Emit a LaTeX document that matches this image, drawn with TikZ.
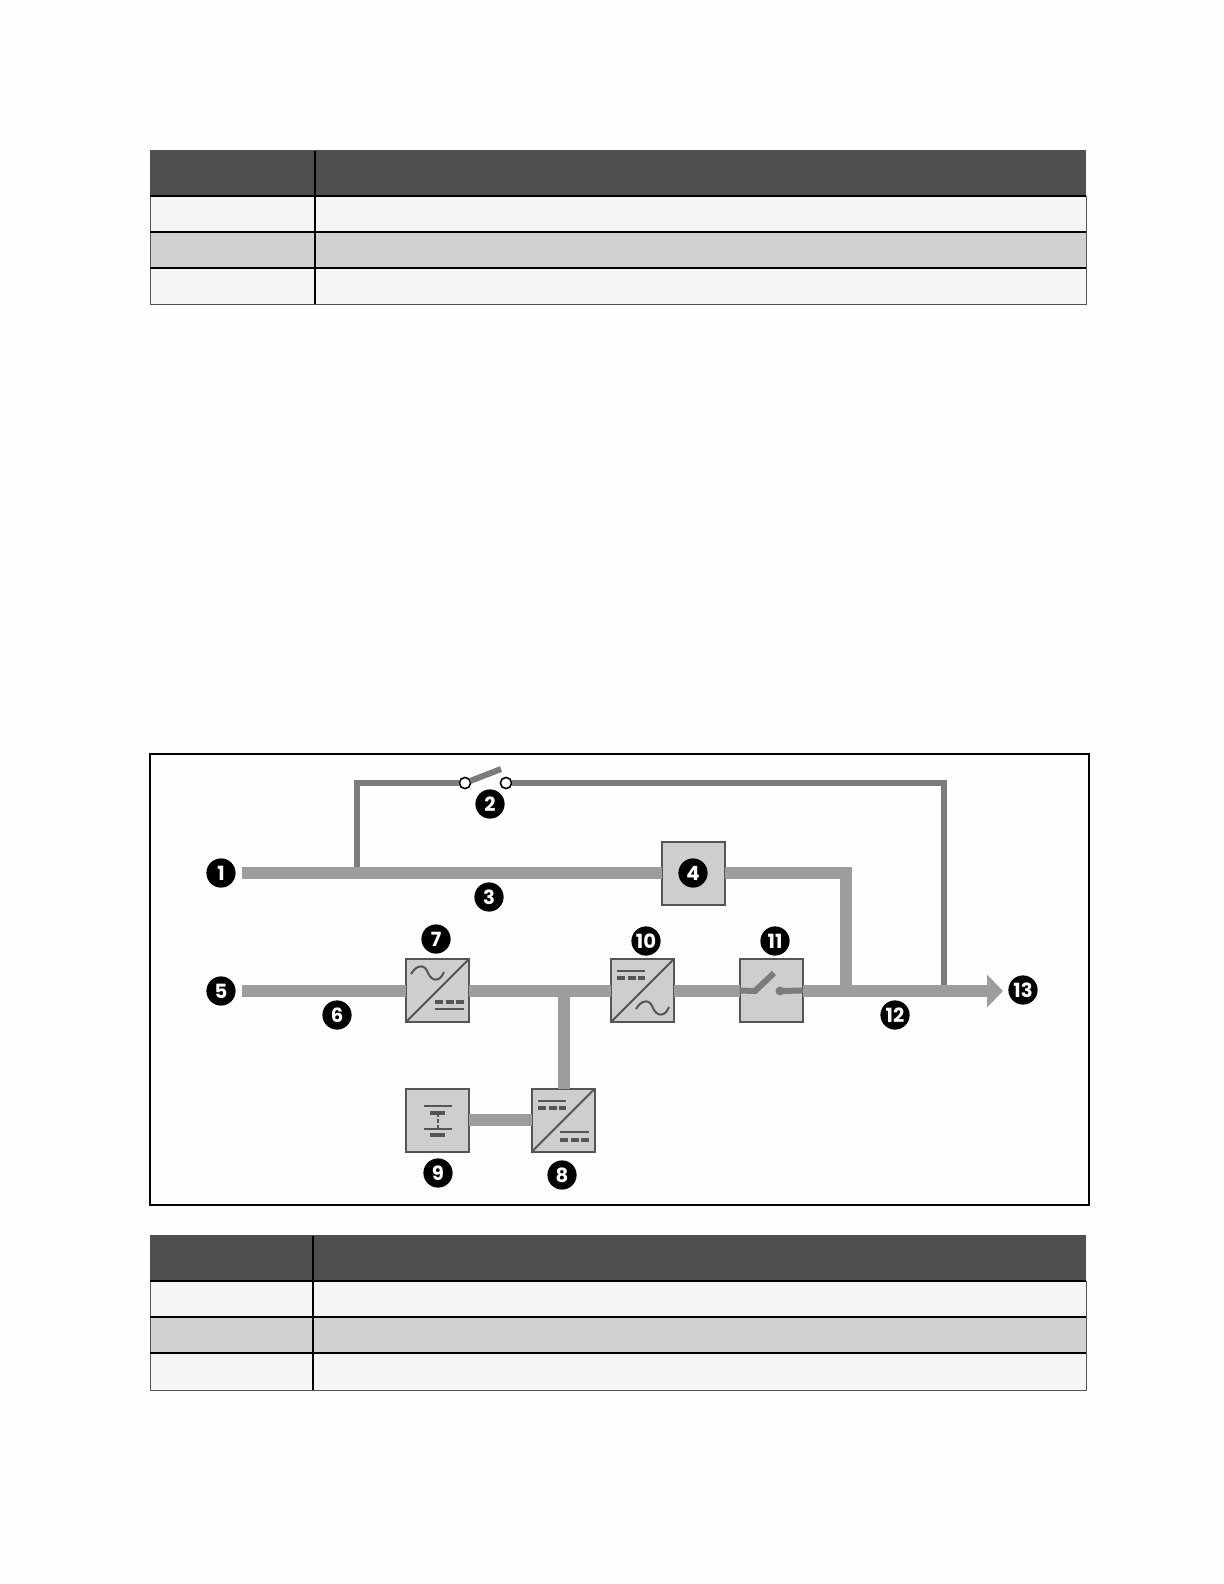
\documentclass[tikz,border=0pt]{standalone}
\usepackage{fontspec}
\setsansfont{Poppins}
\usepackage{tikz}
\usetikzlibrary{arrows.meta}
\definecolor{busgray}{HTML}{9C9E9E}
\definecolor{bypassgray}{HTML}{7B7D7D}
\definecolor{boxgray}{HTML}{CDCECE}
\definecolor{edgegray}{HTML}{555555}
\definecolor{headgray}{HTML}{4F4F4F}
\definecolor{rowlight}{HTML}{F5F5F5}
\definecolor{rowdark}{HTML}{D1D1D1}
\definecolor{pagewhite}{HTML}{FEFEFE}

\begin{document}
\begin{tikzpicture}[x=0.5pt,y=-0.5pt,
    badge/.style={circle,fill=black,text=white,inner sep=0pt,minimum size=14.6pt,font=\sffamily\bfseries\fontsize{9.8}{10}\selectfont},
    unitbox/.style={rectangle,draw=edgegray,fill=boxgray,line width=1pt,minimum size=31.5pt,inner sep=0pt,outer sep=0pt},
    contact/.style={circle,draw=black,fill=white,line width=0.8pt,minimum size=5.6pt,inner sep=0pt,outer sep=0pt},
    bus/.style={busgray,line width=6pt},
    bypass/.style={bypassgray,line width=3pt},
    thin mark/.style={edgegray,line width=1pt},
    thick mark/.style={edgegray,line width=1.6pt},
    dash mark/.style={edgegray,line width=1.6pt,dash pattern=on 4pt off 1.25pt}]
  \useasboundingbox (0,0) rectangle (1224,1584);
  \fill[pagewhite] (0,0) rectangle (1224,1584);

  \fill[headgray] (150,150) rectangle (1086,196);
  \fill[rowlight] (150,196) rectangle (1086,232);
  \fill[rowdark] (150,232) rectangle (1086,268);
  \fill[rowlight] (150,268) rectangle (1086,304);
  \draw[edgegray,line width=0.45pt] (150,196) -- (150,304) -- (1086,304) -- (1086,196);
  \draw[black,line width=0.6pt] (150,196) -- (1086,196);
  \draw[black,line width=0.6pt] (150,232) -- (1086,232);
  \draw[black,line width=0.6pt] (150,268) -- (1086,268);
  \draw[black,line width=1.3pt] (315,151) -- (315,304);

  \draw[black,line width=0.8pt] (150,754) rectangle (1089,1205);

  \fill[headgray] (150,1235) rectangle (1086,1281);
  \fill[rowlight] (150,1281) rectangle (1086,1317);
  \fill[rowdark] (150,1317) rectangle (1086,1353);
  \fill[rowlight] (150,1353) rectangle (1086,1390);
  \draw[edgegray,line width=0.45pt] (150,1281) -- (150,1390) -- (1086,1390) -- (1086,1281);
  \draw[black,line width=1.3pt] (150,1281) -- (1086,1281);
  \draw[black,line width=1.3pt] (150,1317) -- (1086,1317);
  \draw[black,line width=1.3pt] (150,1353) -- (1086,1353);
  \draw[black,line width=0.6pt] (313,1236) -- (313,1390);

  \node[unitbox] (static) at (693.5,873) {};
  \node[unitbox] (rect) at (437.5,990.5) {};
  \node[unitbox] (inv) at (642.5,990.5) {};
  \node[unitbox] (outsw) at (771,990.5) {};
  \node[unitbox] (batt) at (437.5,1120) {};
  \node[unitbox] (chopper) at (563.5,1120) {};

  \node[contact] (swa) at (465,783) {};
  \node[contact] (swb) at (506,783) {};
  \coordinate (swtip) at (501,769);
  \coordinate (mainin) at (242,873);
  \coordinate (tap) at (357,873);
  \coordinate (mainbend) at (846,873);
  \coordinate (acin) at (242,991);
  \coordinate (dclink) at (564,991);
  \coordinate (loadjoin) at (846,991);
  \coordinate (bypassjoin) at (944,991);
  \coordinate (loadout) at (1003,991);

  \draw[bypass] (tap) |- (swa);
  \draw[bypass] (swb) -| (bypassjoin);
  \draw[bypass] (swa) -- (swtip);

  \draw[bus] (mainin) -- (static);
  \draw[bus] (static) -- (mainbend) -- (loadjoin);
  \draw[bus] (acin) -- (rect.west |- acin);
  \draw[bus] (rect.east |- acin) -- (inv.west |- acin);
  \draw[bus] (inv.east |- acin) -- (outsw.west |- acin);
  \draw[bus] (dclink) -- (chopper.north -| dclink);
  \draw[bus] (batt) -- (chopper);
  \draw[bus,-{Triangle[length=8pt,width=16pt]}] (outsw.east |- loadout) -- (loadout);

  \draw[edgegray,line width=1pt] (rect.south west) -- (rect.north east);
  \draw[edgegray,line width=1pt] (inv.south west) -- (inv.north east);
  \draw[edgegray,line width=1pt] (chopper.south west) -- (chopper.north east);

  \draw[thin mark] (411,974) .. controls (417,964) and (425,964) .. (428,973) .. controls (432,982) and (440,982) .. (444,972);
  \draw[dash mark] (435,1002) -- (464,1002);
  \draw[thin mark] (435,1009) -- (464,1009);

  \draw[thin mark] (617,971) -- (645,971);
  \draw[dash mark] (617,978) -- (645,978);
  \draw[thin mark] (636,1009) .. controls (642,999) and (650,999) .. (653,1008) .. controls (657,1017) and (665,1017) .. (669,1007);

  \draw[thin mark] (538,1101) -- (566,1101);
  \draw[dash mark] (538,1108) -- (566,1108);
  \draw[thin mark] (560,1132) -- (589,1132);
  \draw[dash mark] (560,1140) -- (589,1140);

  \draw[thin mark] (424,1106) -- (452,1106);
  \draw[thick mark] (430,1113) -- (445,1113);
  \draw[edgegray,line width=0.7pt,dash pattern=on 2pt off 1pt] (438,1113) -- (438,1129);
  \draw[thin mark] (424,1129) -- (452,1129);
  \draw[thick mark] (430,1135) -- (445,1135);

  \draw[bypassgray,line width=3pt] (outsw.west) -- (755,991) -- (774,973);
  \fill[bypassgray] (780,991) circle (4.5);
  \draw[bypassgray,line width=3pt] (780,991) -- (outsw.east);

  \node[badge] (n1) at (221,873) {1};
  \node[badge] (n2) at (490,804) {2};
  \node[badge] (n3) at (489,897) {3};
  \node[badge] (n4) at (693,873) {4};
  \node[badge] (n5) at (221,991) {5};
  \node[badge] (n6) at (337,1015) {6};
  \node[badge] (n7) at (436,939) {7};
  \node[badge] (n8) at (562,1175) {8};
  \node[badge] (n9) at (438,1173) {9};
  \node[badge] (n10) at (646,941) {10};
  \node[badge] (n11) at (775,941) {11};
  \node[badge] (n12) at (895,1015) {12};
  \node[badge] (n13) at (1023,990) {13};
\end{tikzpicture}
\end{document}
